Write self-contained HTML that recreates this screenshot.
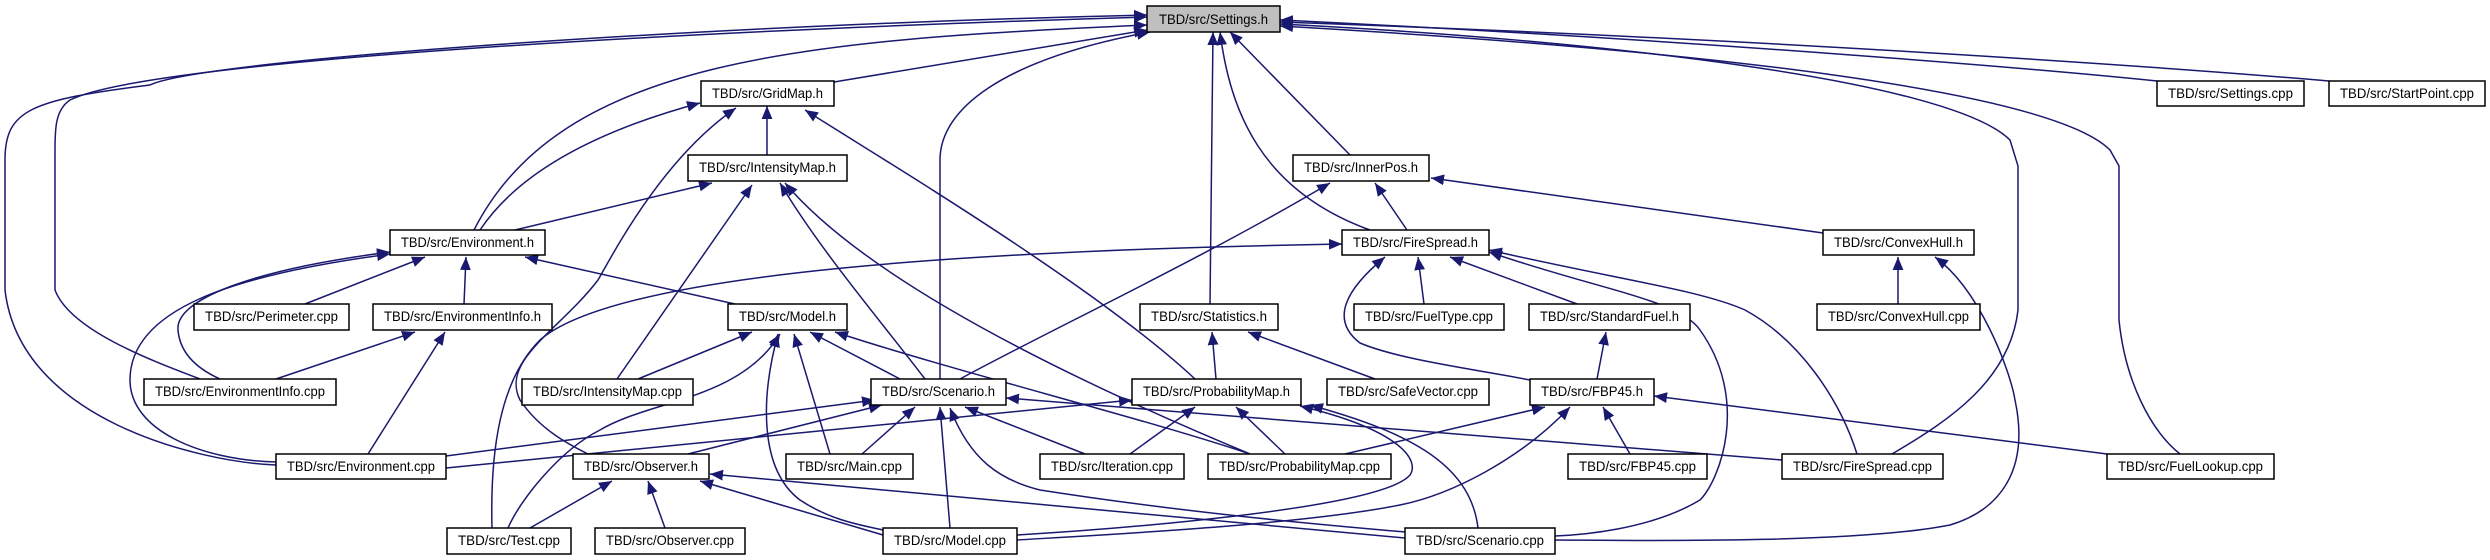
<!DOCTYPE html>
<html><head><meta charset="utf-8"><style>
html,body{margin:0;padding:0;background:#fff;}
svg{display:block;}
text{font-family:"Liberation Sans",sans-serif;font-size:14px;fill:#000;}
.e{fill:none;stroke:#191970;stroke-width:1.5;marker-start:url(#a);}
.n{fill:#fff;stroke:#000;stroke-width:1.5;}
</style></head><body>
<svg width="2490" height="560" viewBox="0 0 2490 560" xmlns="http://www.w3.org/2000/svg">
<defs><marker id="a" markerUnits="userSpaceOnUse" markerWidth="13" markerHeight="11" refX="0" refY="5" orient="auto" viewBox="0 0 12 10"><path d="M12,0 L0,5 L12,10 z" fill="#191970"/></marker></defs>
<g>
<path class="e" d="M1147,25 C800,40 560,60 474,230"/>
<path class="e" d="M1147,17 C700,30 150,60 70,100 C55,110 55,130 55,150 L55,290 C70,330 150,360 200,379"/>
<path class="e" d="M1147,15 C700,25 200,60 150,85 C30,100 5,110 5,160 L5,290 C20,420 200,462 276,465"/>
<path class="e" d="M1147,30 L834,82"/>
<path class="e" d="M1150,32 C1000,60 940,110 940,160 L940,379"/>
<path class="e" d="M1213,32 L1210,304"/>
<path class="e" d="M1220,32 C1230,110 1260,190 1370,230"/>
<path class="e" d="M1230,32 L1350,155"/>
<path class="e" d="M1280,20 C1700,40 2050,70 2157,81"/>
<path class="e" d="M1280,22 C1800,40 2200,70 2329,81"/>
<path class="e" d="M1280,24 C1600,40 1950,80 2010,140 L2018,166 L2018,310 C2010,380 1950,420 1892,454"/>
<path class="e" d="M1280,26 C1700,50 2050,90 2110,150 L2119,166 L2119,320 C2125,380 2150,430 2180,454"/>
<path class="e" d="M700,103 C600,130 520,170 480,230"/>
<path class="e" d="M736,108 C660,160 610,260 598,280 C560,330 500,360 520,400 C540,430 570,445 588,454"/>
<path class="e" d="M767,106 L767,155"/>
<path class="e" d="M805,110 C900,170 1100,290 1195,379"/>
<path class="e" d="M712,183 L515,230"/>
<path class="e" d="M752,185 L617,379"/>
<path class="e" d="M780,183 C820,250 880,320 925,379"/>
<path class="e" d="M785,183 C850,260 1000,350 1250,454"/>
<path class="e" d="M390,252 C250,270 175,300 178,330 C180,355 200,370 220,379"/>
<path class="e" d="M390,254 C230,275 130,310 130,380 C130,430 200,460 276,462"/>
<path class="e" d="M425,257 L305,304"/>
<path class="e" d="M466,257 L464,304"/>
<path class="e" d="M525,257 L735,304"/>
<path class="e" d="M415,332 L276,379"/>
<path class="e" d="M445,332 L368,454"/>
<path class="e" d="M752,332 L638,379"/>
<path class="e" d="M780,334 C740,400 650,400 600,430 C560,450 520,500 508,528"/>
<path class="e" d="M778,334 C760,400 760,470 800,500 C830,520 860,525 883,530"/>
<path class="e" d="M794,334 L830,454"/>
<path class="e" d="M810,332 L900,379"/>
<path class="e" d="M835,332 C950,370 1150,420 1250,454"/>
<path class="e" d="M875,400 L446,456"/>
<path class="e" d="M1342,244 C1000,250 620,270 540,340 C500,380 490,450 492,528"/>
<path class="e" d="M882,405 L688,454"/>
<path class="e" d="M915,407 L862,454"/>
<path class="e" d="M940,407 L950,528"/>
<path class="e" d="M965,407 L1085,454"/>
<path class="e" d="M950,408 C970,460 1000,480 1040,490 C1200,515 1350,527 1405,532"/>
<path class="e" d="M1006,398 L1782,460"/>
<path class="e" d="M612,481 L530,528"/>
<path class="e" d="M648,481 L665,528"/>
<path class="e" d="M700,481 L883,535"/>
<path class="e" d="M710,474 L1405,538"/>
<path class="e" d="M1330,183 C1200,260 1050,330 960,379"/>
<path class="e" d="M1375,183 L1407,230"/>
<path class="e" d="M1431,178 L1823,233"/>
<path class="e" d="M1418,257 L1424,304"/>
<path class="e" d="M1450,257 L1577,304"/>
<path class="e" d="M1385,257 C1345,290 1330,320 1360,343 C1400,360 1480,370 1530,380"/>
<path class="e" d="M1489,250 C1620,280 1700,290 1745,310 C1800,340 1840,400 1857,454"/>
<path class="e" d="M1489,252 C1600,290 1680,300 1700,330 C1750,400 1720,480 1700,500 C1650,530 1580,535 1555,536"/>
<path class="e" d="M1898,257 L1898,304"/>
<path class="e" d="M1935,257 C1980,290 2010,370 2015,400 C2030,470 2000,510 1950,525 C1850,545 1600,540 1555,540"/>
<path class="e" d="M1212,332 L1216,379"/>
<path class="e" d="M1248,332 L1375,379"/>
<path class="e" d="M1606,332 L1597,379"/>
<path class="e" d="M1132,400 L446,468"/>
<path class="e" d="M1195,407 L1130,454"/>
<path class="e" d="M1236,407 L1285,454"/>
<path class="e" d="M1300,406 C1400,430 1420,460 1410,475 C1380,510 1100,530 1017,535"/>
<path class="e" d="M1310,405 C1400,430 1470,460 1478,528"/>
<path class="e" d="M1545,407 L1345,454"/>
<path class="e" d="M1570,407 C1520,460 1450,495 1400,505 C1300,525 1100,535 1017,540"/>
<path class="e" d="M1603,407 L1630,454"/>
<path class="e" d="M1654,396 L2107,454"/>
</g>
<g>
<rect x="1147" y="6" width="133" height="26" fill="#bfbfbf" stroke="#000" stroke-width="1.5"/><text x="1213.5" y="24" text-anchor="middle" textLength="109" lengthAdjust="spacingAndGlyphs">TBD/src/Settings.h</text>
<rect class="n" x="701" y="81" width="133" height="25"/><text x="767.5" y="98" text-anchor="middle" textLength="111" lengthAdjust="spacingAndGlyphs">TBD/src/GridMap.h</text>
<rect class="n" x="688" y="155" width="159" height="26"/><text x="767.5" y="172" text-anchor="middle" textLength="137" lengthAdjust="spacingAndGlyphs">TBD/src/IntensityMap.h</text>
<rect class="n" x="390" y="230" width="155" height="25"/><text x="467.5" y="247" text-anchor="middle" textLength="133" lengthAdjust="spacingAndGlyphs">TBD/src/Environment.h</text>
<rect class="n" x="1293" y="155" width="136" height="26"/><text x="1361" y="172" text-anchor="middle" textLength="114" lengthAdjust="spacingAndGlyphs">TBD/src/InnerPos.h</text>
<rect class="n" x="1342" y="230" width="147" height="25"/><text x="1415.5" y="247" text-anchor="middle" textLength="125" lengthAdjust="spacingAndGlyphs">TBD/src/FireSpread.h</text>
<rect class="n" x="1823" y="230" width="151" height="25"/><text x="1898.5" y="247" text-anchor="middle" textLength="129" lengthAdjust="spacingAndGlyphs">TBD/src/ConvexHull.h</text>
<rect class="n" x="2157" y="81" width="147" height="25"/><text x="2230.5" y="98" text-anchor="middle" textLength="125" lengthAdjust="spacingAndGlyphs">TBD/src/Settings.cpp</text>
<rect class="n" x="2329" y="81" width="156" height="25"/><text x="2407" y="98" text-anchor="middle" textLength="134" lengthAdjust="spacingAndGlyphs">TBD/src/StartPoint.cpp</text>
<rect class="n" x="194" y="304" width="155" height="26"/><text x="271.5" y="321" text-anchor="middle" textLength="133" lengthAdjust="spacingAndGlyphs">TBD/src/Perimeter.cpp</text>
<rect class="n" x="373" y="304" width="179" height="26"/><text x="462.5" y="321" text-anchor="middle" textLength="157" lengthAdjust="spacingAndGlyphs">TBD/src/EnvironmentInfo.h</text>
<rect class="n" x="728" y="304" width="119" height="26"/><text x="787.5" y="321" text-anchor="middle" textLength="97" lengthAdjust="spacingAndGlyphs">TBD/src/Model.h</text>
<rect class="n" x="1140" y="304" width="138" height="26"/><text x="1209" y="321" text-anchor="middle" textLength="116" lengthAdjust="spacingAndGlyphs">TBD/src/Statistics.h</text>
<rect class="n" x="1354" y="304" width="150" height="26"/><text x="1429" y="321" text-anchor="middle" textLength="128" lengthAdjust="spacingAndGlyphs">TBD/src/FuelType.cpp</text>
<rect class="n" x="1529" y="304" width="161" height="26"/><text x="1609.5" y="321" text-anchor="middle" textLength="139" lengthAdjust="spacingAndGlyphs">TBD/src/StandardFuel.h</text>
<rect class="n" x="1817" y="304" width="163" height="26"/><text x="1898.5" y="321" text-anchor="middle" textLength="141" lengthAdjust="spacingAndGlyphs">TBD/src/ConvexHull.cpp</text>
<rect class="n" x="144" y="379" width="192" height="26"/><text x="240" y="396" text-anchor="middle" textLength="170" lengthAdjust="spacingAndGlyphs">TBD/src/EnvironmentInfo.cpp</text>
<rect class="n" x="522" y="379" width="171" height="26"/><text x="607.5" y="396" text-anchor="middle" textLength="149" lengthAdjust="spacingAndGlyphs">TBD/src/IntensityMap.cpp</text>
<rect class="n" x="871" y="379" width="135" height="26"/><text x="938.5" y="396" text-anchor="middle" textLength="113" lengthAdjust="spacingAndGlyphs">TBD/src/Scenario.h</text>
<rect class="n" x="1132" y="379" width="169" height="26"/><text x="1216.5" y="396" text-anchor="middle" textLength="147" lengthAdjust="spacingAndGlyphs">TBD/src/ProbabilityMap.h</text>
<rect class="n" x="1327" y="379" width="162" height="26"/><text x="1408" y="396" text-anchor="middle" textLength="140" lengthAdjust="spacingAndGlyphs">TBD/src/SafeVector.cpp</text>
<rect class="n" x="1530" y="379" width="124" height="26"/><text x="1592" y="396" text-anchor="middle" textLength="102" lengthAdjust="spacingAndGlyphs">TBD/src/FBP45.h</text>
<rect class="n" x="276" y="454" width="170" height="25"/><text x="361" y="471" text-anchor="middle" textLength="148" lengthAdjust="spacingAndGlyphs">TBD/src/Environment.cpp</text>
<rect class="n" x="573" y="454" width="136" height="25"/><text x="641" y="471" text-anchor="middle" textLength="114" lengthAdjust="spacingAndGlyphs">TBD/src/Observer.h</text>
<rect class="n" x="786" y="454" width="127" height="25"/><text x="849.5" y="471" text-anchor="middle" textLength="105" lengthAdjust="spacingAndGlyphs">TBD/src/Main.cpp</text>
<rect class="n" x="1040" y="454" width="144" height="25"/><text x="1112" y="471" text-anchor="middle" textLength="122" lengthAdjust="spacingAndGlyphs">TBD/src/Iteration.cpp</text>
<rect class="n" x="1208" y="454" width="183" height="25"/><text x="1299.5" y="471" text-anchor="middle" textLength="161" lengthAdjust="spacingAndGlyphs">TBD/src/ProbabilityMap.cpp</text>
<rect class="n" x="1568" y="454" width="139" height="25"/><text x="1637.5" y="471" text-anchor="middle" textLength="117" lengthAdjust="spacingAndGlyphs">TBD/src/FBP45.cpp</text>
<rect class="n" x="1782" y="454" width="161" height="25"/><text x="1862.5" y="471" text-anchor="middle" textLength="139" lengthAdjust="spacingAndGlyphs">TBD/src/FireSpread.cpp</text>
<rect class="n" x="2107" y="454" width="167" height="25"/><text x="2190.5" y="471" text-anchor="middle" textLength="145" lengthAdjust="spacingAndGlyphs">TBD/src/FuelLookup.cpp</text>
<rect class="n" x="447" y="528" width="124" height="26"/><text x="509" y="545" text-anchor="middle" textLength="102" lengthAdjust="spacingAndGlyphs">TBD/src/Test.cpp</text>
<rect class="n" x="595" y="528" width="150" height="26"/><text x="670" y="545" text-anchor="middle" textLength="128" lengthAdjust="spacingAndGlyphs">TBD/src/Observer.cpp</text>
<rect class="n" x="883" y="528" width="134" height="26"/><text x="950" y="545" text-anchor="middle" textLength="112" lengthAdjust="spacingAndGlyphs">TBD/src/Model.cpp</text>
<rect class="n" x="1405" y="528" width="150" height="26"/><text x="1480" y="545" text-anchor="middle" textLength="128" lengthAdjust="spacingAndGlyphs">TBD/src/Scenario.cpp</text>
</g>
</svg>
</body></html>
